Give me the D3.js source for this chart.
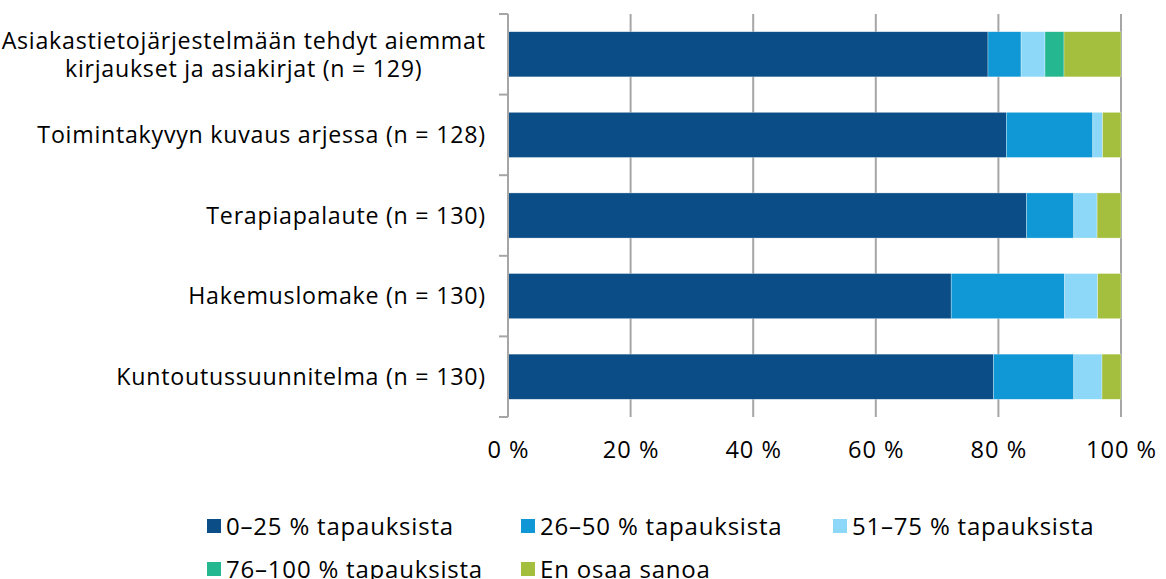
<!DOCTYPE html>
<html><head><meta charset="utf-8">
<script src="https://cdn.jsdelivr.net/npm/d3@7"></script>
<style>body{margin:0;background:#fff}svg{display:block}text{font-family:"Open Sans","Liberation Sans",Arial,sans-serif;fill:#000}</style>
</head><body><svg id="c" width="1166" height="579"></svg>
<script>
const categories = [
  ["Asiakastietojärjestelmään tehdyt aiemmat", "kirjaukset ja asiakirjat (n = 129)"],
  ["Toimintakyvyn kuvaus arjessa (n = 128)"],
  ["Terapiapalaute (n = 130)"],
  ["Hakemuslomake (n = 130)"],
  ["Kuntoutussuunnitelma (n = 130)"]
];
const seriesNames = ["0–25 % tapauksista","26–50 % tapauksista","51–75 % tapauksista","76–100 % tapauksista","En osaa sanoa"];
const s0_25   = [78.3, 81.3, 84.6, 72.3, 79.2];
const s26_50  = [5.4, 14.1, 7.7, 18.5, 13.1];
const s51_75  = [3.9, 1.6, 3.8, 5.4, 4.6];
const s76_100 = [3.1, 0, 0, 0, 0];
const sEOS    = [9.3, 3.0, 3.9, 3.8, 3.1];
const xTicks = [0,20,40,60,80,100];
const colors = ["#0b4d87","#0f98d5","#8dd8f8","#25b78f","#a4bf3e"];

const svg = d3.select("#c");
const x = d3.scaleLinear().domain([0,100]).range([508,1121]);
const ids = categories.map((d,i)=>i);
const y = d3.scaleBand().domain(ids).range([14,417]).paddingInner(0.44).paddingOuter(0.22);
const series = [s0_25,s26_50,s51_75,s76_100,sEOS];
const rows = ids.map(i=>{const o={id:i}; series.forEach((s,k)=>o["k"+k]=s[i]); return o;});
const stack = d3.stack().keys(series.map((s,k)=>"k"+k))(rows);

// gridlines
svg.append("g").selectAll("line").data(xTicks.slice(1)).join("line")
  .attr("x1",d=>x(d)).attr("x2",d=>x(d)).attr("y1",14).attr("y2",417)
  .attr("stroke","#a6a6a6").attr("stroke-width",2);

// bars
svg.append("g").selectAll("g").data(stack).join("g").attr("fill",(d,k)=>colors[k])
  .selectAll("rect").data(d=>d).join("rect")
  .attr("x",d=>x(d[0])).attr("width",d=>x(d[1])-x(d[0]))
  .attr("y",d=>y(d.data.id)).attr("height",y.bandwidth())
  .attr("stroke","#ffffff").attr("stroke-width",0.6).attr("stroke-opacity",0.5);

// y axis
const step = y.step();
const bounds = ids.map(i=>y(i)-y.paddingInner()*step/2).concat([y(ids[ids.length-1])+y.bandwidth()+y.paddingInner()*step/2]);
const ax = svg.append("g").attr("stroke","#a6a6a6").attr("stroke-width",2);
ax.append("line").attr("x1",x(0)).attr("x2",x(0)).attr("y1",bounds[0]).attr("y2",bounds[bounds.length-1]);
ax.selectAll("line.t").data(bounds).join("line").attr("class","t")
  .attr("x1",x(0)-9).attr("x2",x(0)).attr("y1",d=>d).attr("y2",d=>d);

// category labels
const ls = 0.75;
const lab = svg.append("g").attr("font-size",23.2).attr("letter-spacing",ls);
categories.forEach((lines,i)=>{
  const cy = y(i)+y.bandwidth()/2;
  const lh = 28;
  const g = lab.append("g");
  const ts = lines.map((t,j)=>g.append("text").text(t)
    .attr("y", cy + (j-(lines.length-1)/2)*lh).attr("dy","0.36em"));
  const w = Math.max(...ts.map(t=>t.node().getComputedTextLength()));
  ts.forEach(t=>t.attr("x",485+ls-w/2).attr("text-anchor","middle"));
});

// x tick labels
svg.append("g").attr("font-size",23.6).attr("letter-spacing",1).selectAll("text").data(xTicks).join("text")
  .attr("x",d=>x(d)+0.5).attr("y",458).attr("text-anchor","middle").text(d=>d+" %");

// legend
const legPos = [[207,526],[521,526],[833,526],[207,569],[521,569]];
const lg = svg.append("g").attr("font-size",24).attr("letter-spacing",0.8);
seriesNames.forEach((n,k)=>{
  const [lx,ly]=legPos[k];
  lg.append("rect").attr("x",lx).attr("y",ly-7).attr("width",14).attr("height",14).attr("fill",colors[k]);
  lg.append("text").attr("x",lx+19).attr("y",ly).attr("dy","0.36em").text(n);
});
</script></body></html>
